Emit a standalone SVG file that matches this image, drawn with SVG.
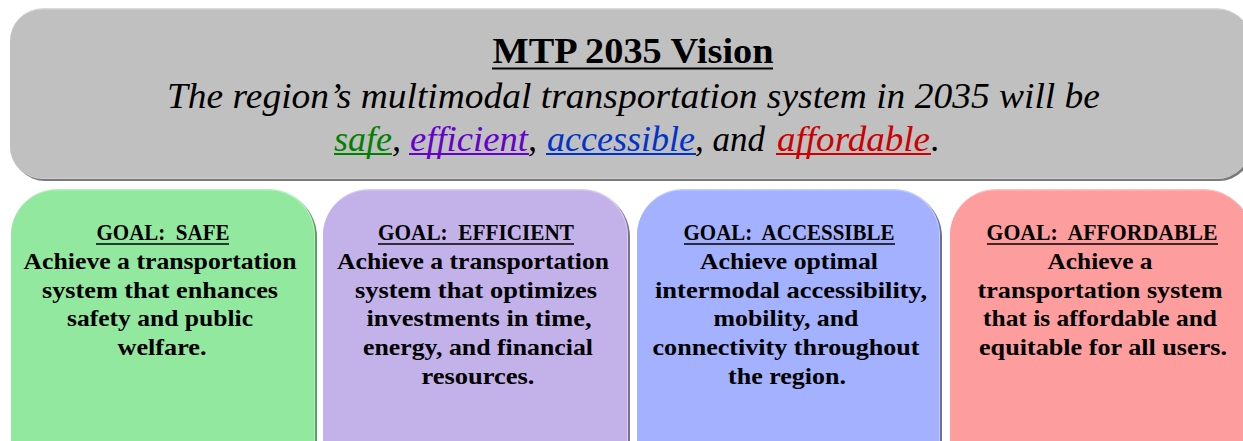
<svg xmlns="http://www.w3.org/2000/svg" width="1243" height="441" viewBox="0 0 1243 441">
<style>
text{font-family:"Liberation Serif","Times New Roman",serif;white-space:pre;}
.h{font-size:35px;font-weight:bold;text-anchor:middle;}
.v{font-size:36px;font-style:italic;}
.g{font-size:22.5px;font-weight:bold;text-anchor:middle;fill:#000;}
.ul{stroke-width:2;}
</style>
<rect width="1243" height="441" fill="#ffffff"/>
<g id="vision">
  <rect x="12" y="10" width="1240" height="171" rx="33" fill="#7a7a7a"/>
  <rect x="10" y="8" width="1240" height="171" rx="33" fill="#dadada"/>
  <rect x="10" y="9.5" width="1240" height="169" rx="32" fill="#c0c0c0"/>
  <text class="h" x="633" y="63" textLength="281" lengthAdjust="spacingAndGlyphs">MTP 2035 Vision</text>
  <line x1="492" y1="68.5" x2="773" y2="68.5" stroke="#000" class="ul"/>
  <text class="v" x="167" y="108" textLength="933" lengthAdjust="spacingAndGlyphs">The region’s multimodal transportation system in 2035 will be</text>
  <text class="v" y="151"><tspan x="334" fill="#008000" textLength="58" lengthAdjust="spacingAndGlyphs">safe</tspan><tspan x="392">,</tspan><tspan x="410" fill="#6600cc" textLength="118" lengthAdjust="spacingAndGlyphs">efficient</tspan><tspan x="528">,</tspan><tspan x="547" fill="#0033cc" textLength="148" lengthAdjust="spacingAndGlyphs">accessible</tspan><tspan x="695" textLength="70" lengthAdjust="spacingAndGlyphs">, and</tspan><tspan x="777" fill="#cc0000" textLength="153" lengthAdjust="spacingAndGlyphs">affordable</tspan><tspan x="931">.</tspan></text>
  <line x1="334" y1="154" x2="392" y2="154" stroke="#008000" class="ul"/>
  <line x1="409" y1="154" x2="529" y2="154" stroke="#6600cc" class="ul"/>
  <line x1="546" y1="154" x2="696" y2="154" stroke="#0033cc" class="ul"/>
  <line x1="776" y1="154" x2="931" y2="154" stroke="#cc0000" class="ul"/>
</g>
<g id="goal-safe">
  <rect x="13" y="191" width="304" height="300" rx="46" fill="#5f9a68"/>
  <rect x="11" y="189" width="304" height="300" rx="46" fill="#b4f0bc"/>
  <rect x="11" y="190.5" width="303" height="298" rx="45" fill="#92e89f"/>
  <text class="g" x="163" y="240" textLength="133" lengthAdjust="spacingAndGlyphs">GOAL:  SAFE</text>
  <line x1="96" y1="244" x2="229" y2="244" stroke="#000" stroke-width="1.6"/>
  <text class="g" x="160" y="269" textLength="273" lengthAdjust="spacingAndGlyphs">Achieve a transportation</text>
  <text class="g" x="160" y="298" textLength="236" lengthAdjust="spacingAndGlyphs">system that enhances</text>
  <text class="g" x="160" y="326" textLength="186" lengthAdjust="spacingAndGlyphs">safety and public</text>
  <text class="g" x="162" y="355" textLength="89" lengthAdjust="spacingAndGlyphs">welfare.</text>
</g>
<g id="goal-efficient">
  <rect x="325" y="191" width="305" height="300" rx="46" fill="#7e6f9c"/>
  <rect x="323" y="189" width="305" height="300" rx="46" fill="#d8ccf2"/>
  <rect x="323" y="190.5" width="304" height="298" rx="45" fill="#c3b1ea"/>
  <text class="g" x="476" y="240" textLength="196" lengthAdjust="spacingAndGlyphs">GOAL:  EFFICIENT</text>
  <line x1="378" y1="244" x2="574" y2="244" stroke="#000" stroke-width="1.6"/>
  <text class="g" x="473" y="269" textLength="272" lengthAdjust="spacingAndGlyphs">Achieve a transportation</text>
  <text class="g" x="476" y="298" textLength="242" lengthAdjust="spacingAndGlyphs">system that optimizes</text>
  <text class="g" x="479" y="326" textLength="225" lengthAdjust="spacingAndGlyphs">investments in time,</text>
  <text class="g" x="478" y="355" textLength="230" lengthAdjust="spacingAndGlyphs">energy, and financial</text>
  <text class="g" x="478" y="384" textLength="113" lengthAdjust="spacingAndGlyphs">resources.</text>
</g>
<g id="goal-accessible">
  <rect x="639" y="191" width="303" height="300" rx="46" fill="#6870a8"/>
  <rect x="637" y="189" width="303" height="300" rx="46" fill="#c2cbfe"/>
  <rect x="637" y="190.5" width="302" height="298" rx="45" fill="#a3b1fe"/>
  <text class="g" x="789" y="240" textLength="211" lengthAdjust="spacingAndGlyphs">GOAL:  ACCESSIBLE</text>
  <line x1="684" y1="244" x2="895" y2="244" stroke="#000" stroke-width="1.6"/>
  <text class="g" x="789" y="269" textLength="178" lengthAdjust="spacingAndGlyphs">Achieve optimal</text>
  <text class="g" x="791" y="298" textLength="272" lengthAdjust="spacingAndGlyphs">intermodal accessibility,</text>
  <text class="g" x="786" y="326" textLength="145" lengthAdjust="spacingAndGlyphs">mobility, and</text>
  <text class="g" x="786" y="355" textLength="267" lengthAdjust="spacingAndGlyphs">connectivity throughout</text>
  <text class="g" x="787" y="384" textLength="118" lengthAdjust="spacingAndGlyphs">the region.</text>
</g>
<g id="goal-affordable">
  <rect x="952" y="191" width="300" height="300" rx="46" fill="#b06a6b"/>
  <rect x="950" y="189" width="300" height="300" rx="46" fill="#ffbcbd"/>
  <rect x="950" y="190.5" width="300" height="298" rx="45" fill="#fe9d9e"/>
  <text class="g" x="1102" y="240" textLength="231" lengthAdjust="spacingAndGlyphs">GOAL:  AFFORDABLE</text>
  <line x1="987" y1="244" x2="1218" y2="244" stroke="#000" stroke-width="1.6"/>
  <text class="g" x="1100" y="269" textLength="105" lengthAdjust="spacingAndGlyphs">Achieve a</text>
  <text class="g" x="1100" y="298" textLength="245" lengthAdjust="spacingAndGlyphs">transportation system</text>
  <text class="g" x="1100" y="326" textLength="234" lengthAdjust="spacingAndGlyphs">that is affordable and</text>
  <text class="g" x="1103" y="355" textLength="248" lengthAdjust="spacingAndGlyphs">equitable for all users.</text>
</g>
<g id="connectors"></g>
</svg>
